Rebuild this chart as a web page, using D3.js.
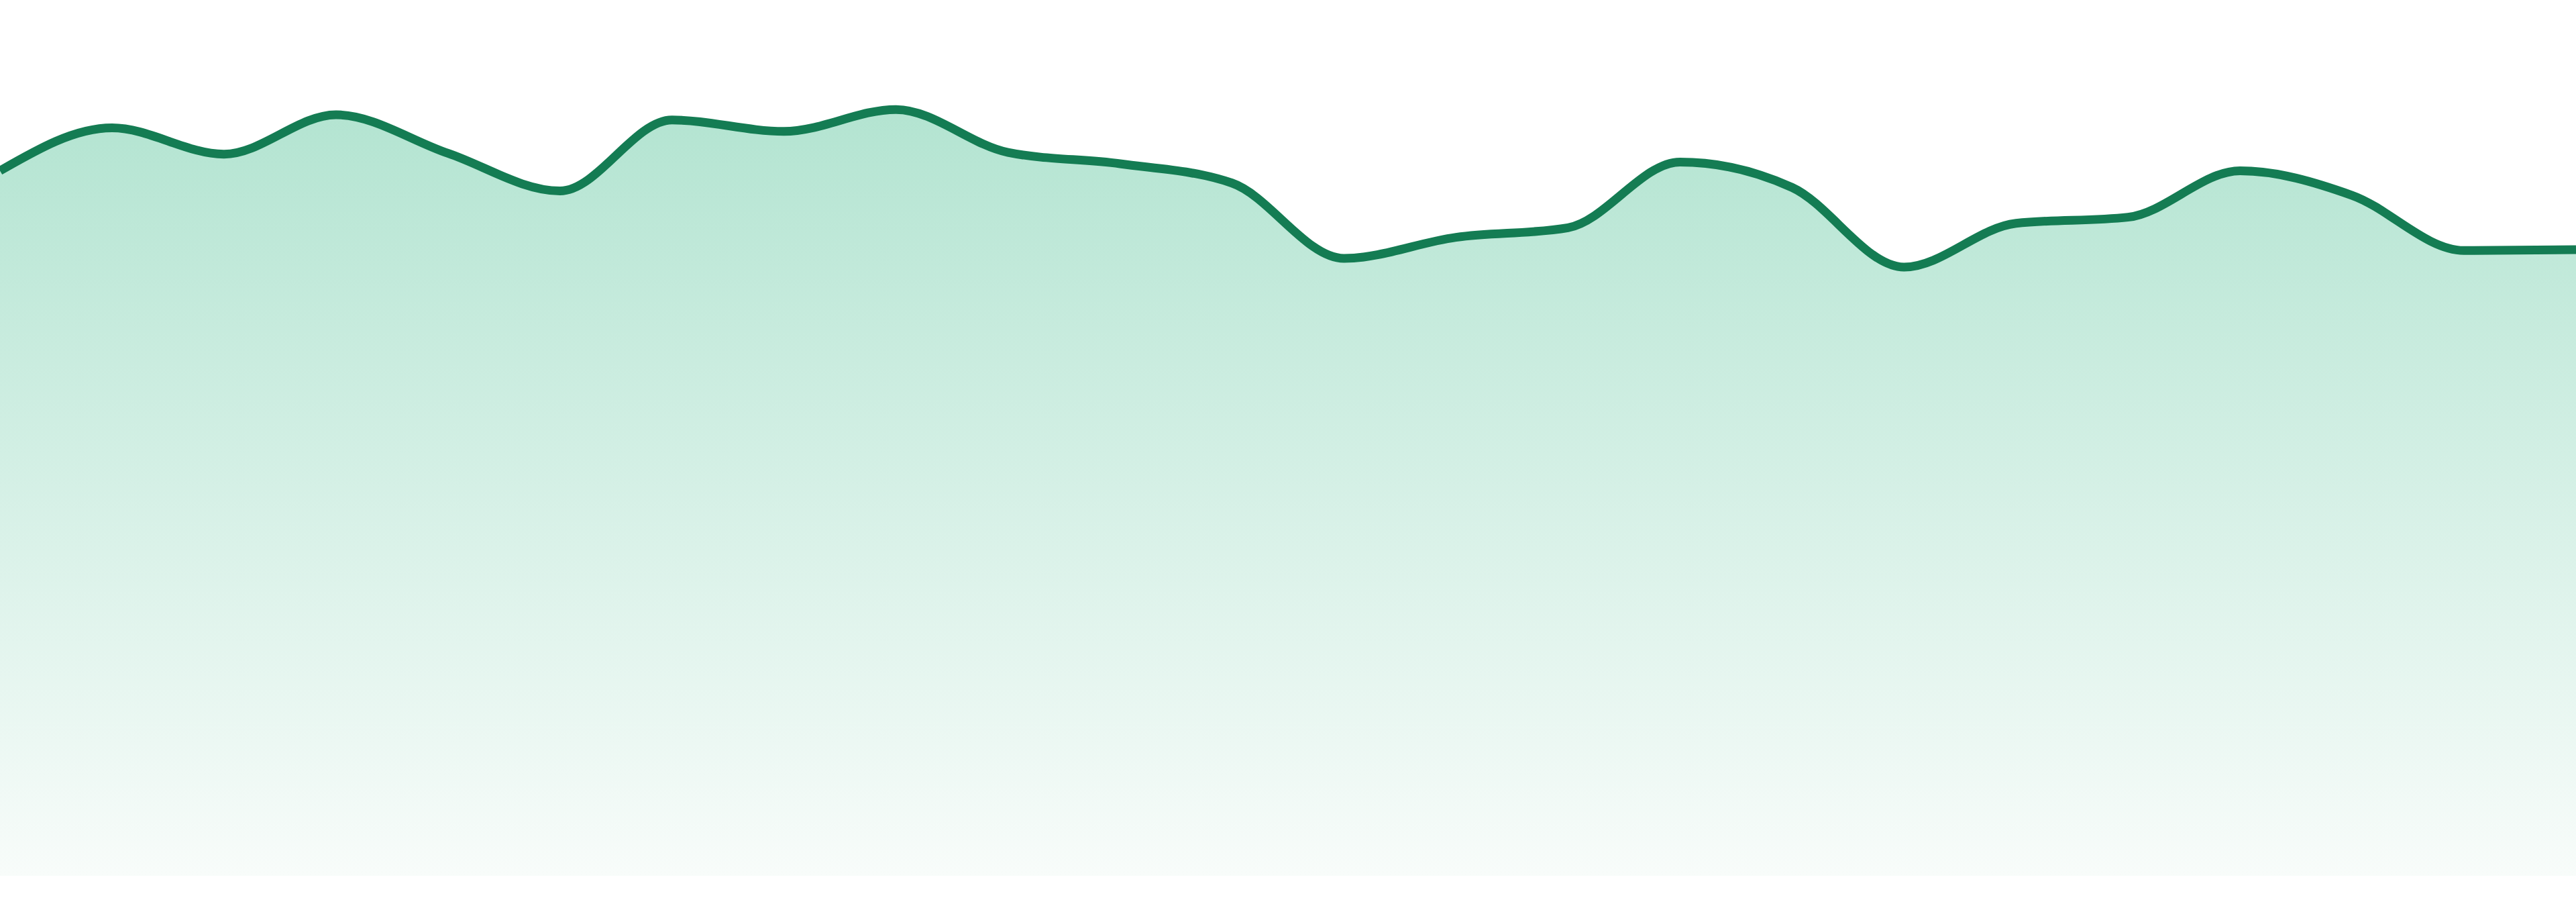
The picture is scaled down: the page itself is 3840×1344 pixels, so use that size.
<!DOCTYPE html>
<html>
<head>
<meta charset="utf-8">
<script src="https://cdn.jsdelivr.net/npm/d3@7"></script>
<style>
  html, body { margin: 0; padding: 0; background: #fff; overflow: hidden; }
  #chart { width: 3840px; height: 1344px; }
  svg { display: block; }
</style>
</head>
<body>
<div id="chart"></div>
<script>
// data
const hours = ['00', '01', '02', '03', '04', '05', '06', '07', '08', '09', '10', '11',
  '12', '13', '14', '15', '16', '17', '18', '19', '20', '21', '22', '23']
const values = [80.5, 85.4, 82.4, 86.9, 82.5, 78.2, 86.3, 85.0, 87.5, 82.6, 81.3, 79.1,
  70.5, 72.9, 74.0, 81.5, 78.6, 69.5, 74.5, 75.2, 80.5, 77.7, 71.4, 71.5]
const yDomain = [0, 100]

const WIDTH = 3840
const HEIGHT = 1344
const BOTTOM = 1305 // where the filled area stops

const svg = d3.select('#chart').append('svg')
  .attr('width', WIDTH)
  .attr('height', HEIGHT)

const x = d3.scalePoint()
  .domain(hours)
  .range([0, WIDTH])
const y = d3.scaleLinear()
  .domain(yDomain)
  .range([BOTTOM, 0])

const data = hours.map((h, i) => ({ h, v: values[i] }))

// gradient for the fill
const grad = svg.append('defs').append('linearGradient')
  .attr('id', 'fade')
  .attr('x1', 0).attr('y1', 0)
  .attr('x2', 0).attr('y2', 1)
grad.append('stop').attr('offset', '0%').attr('stop-color', '#b3e4d1')
grad.append('stop').attr('offset', '45%').attr('stop-color', '#d2efe4')
grad.append('stop').attr('offset', '100%').attr('stop-color', '#f8fcfa')

const area = d3.area()
  .x(d => x(d.h))
  .y0(BOTTOM)
  .y1(d => y(d.v))
  .curve(d3.curveMonotoneX)

const line = d3.line()
  .x(d => x(d.h))
  .y(d => y(d.v))
  .curve(d3.curveMonotoneX)

svg.append('path')
  .datum(data)
  .attr('fill', 'url(#fade)')
  .attr('d', area)

svg.append('path')
  .datum(data)
  .attr('fill', 'none')
  .attr('stroke', '#147c53')
  .attr('stroke-width', 13)
  .attr('stroke-linejoin', 'round')
  .attr('d', line)
</script>
</body>
</html>
